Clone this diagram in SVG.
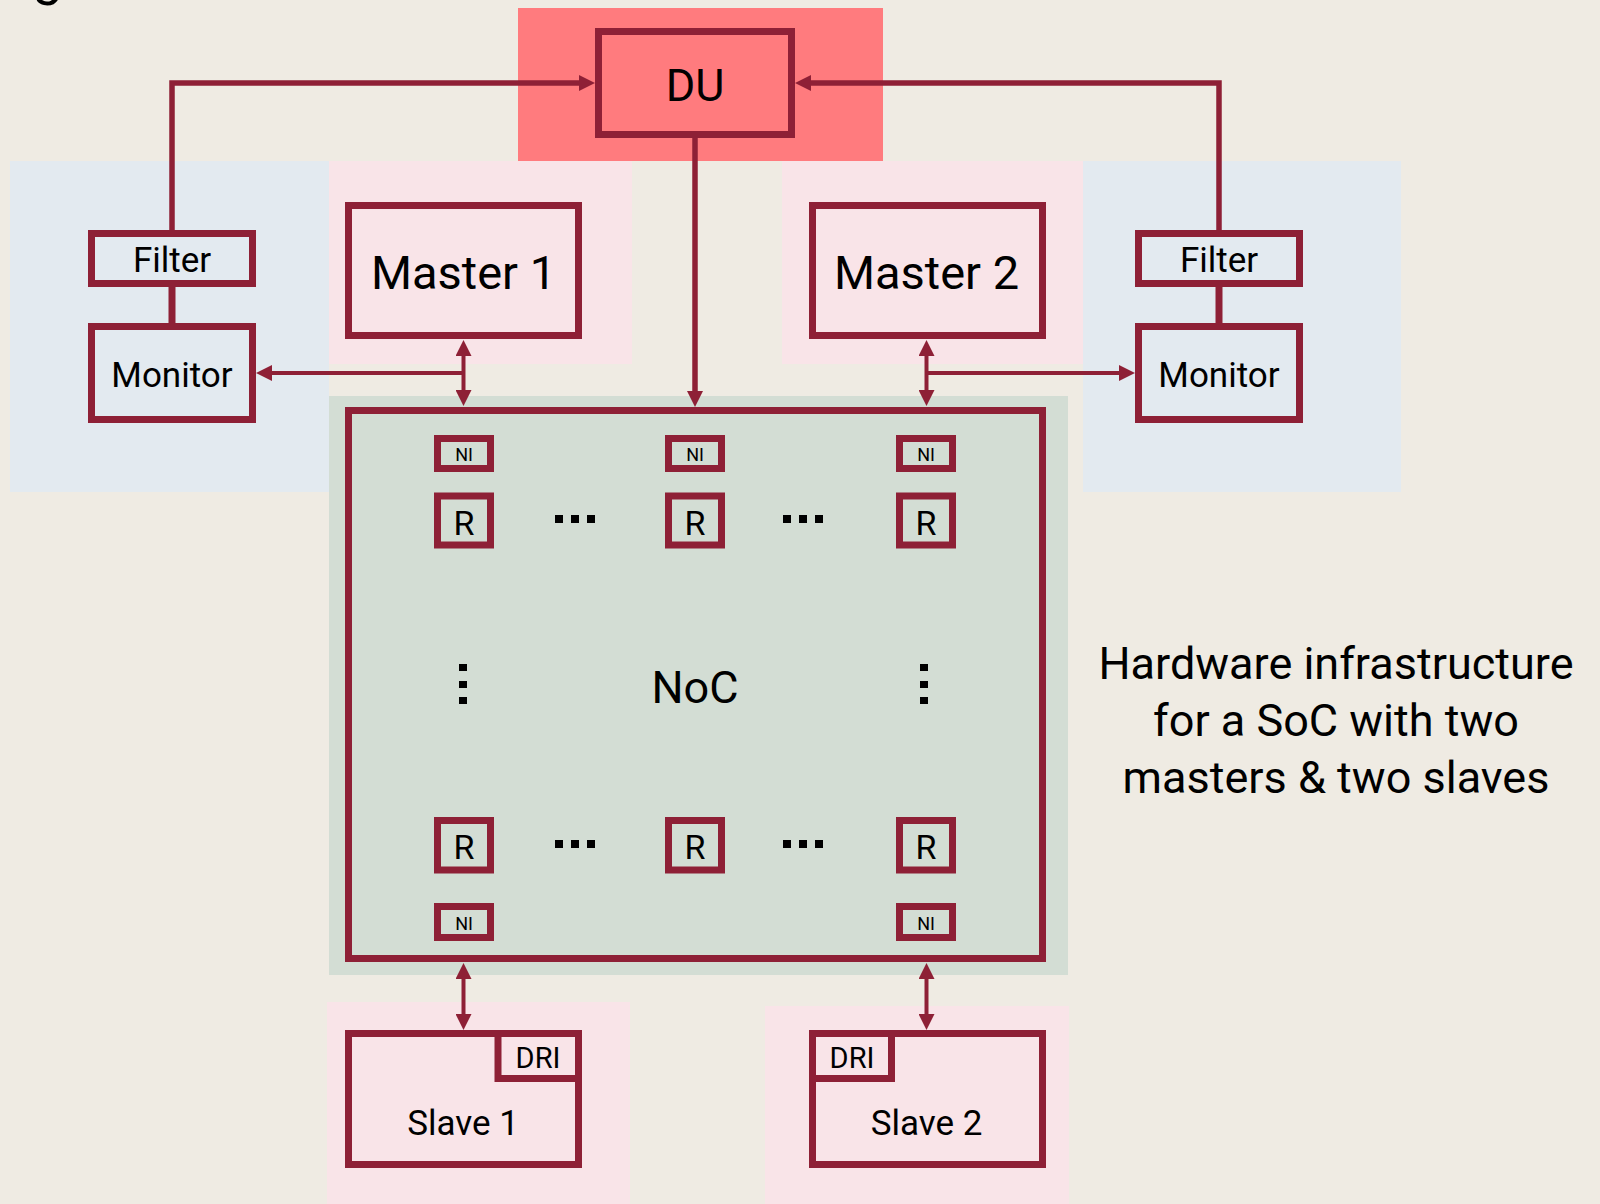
<svg xmlns="http://www.w3.org/2000/svg" width="1600" height="1204" viewBox="0 0 1600 1204">
<defs>
<style>
.box{stroke:#8E2036;stroke-width:7}
.blue{fill:#E3EAF0}
.pink{fill:#F9E4E8}
.green{fill:#D3DDD4}
.red{fill:#FF7B7E}
.t{font-family:Roboto,"Liberation Sans",sans-serif;fill:#000;text-anchor:middle}
.c{fill:none;stroke:#8E2036;stroke-width:4}
.cdu{fill:none;stroke:#8E2036;stroke-width:5.5}
.cfm{fill:none;stroke:#8E2036;stroke-width:7}
.dot{fill:#000}
</style>
<marker id="ah" markerUnits="userSpaceOnUse" markerWidth="16" markerHeight="16" refX="8" refY="8" orient="auto-start-reverse" viewBox="0 0 16 16">
<path d="M0,0 L16,8 L0,16 z" fill="#8E2036"/>
</marker>
</defs>
<rect x="0" y="0" width="1600" height="1204" fill="#EFEBE3"/>
<text class="t" x="48" y="-6" font-size="54">g</text>
<g id="backgrounds">
<rect x="518" y="8" width="365" height="153" class="red"/>
<rect x="10" y="161" width="319" height="331" class="blue"/>
<rect x="1083" y="161" width="318" height="331" class="blue"/>
<rect x="329" y="161" width="303" height="203" class="pink"/>
<rect x="782" y="161" width="301" height="203" class="pink"/>
<rect x="329" y="396" width="739" height="579" class="green"/>
<rect x="327" y="1002" width="303" height="202" class="pink"/>
<rect x="765" y="1006" width="304" height="198" class="pink"/>
</g>
<g id="connectors">
<path class="cdu" d="M172,230 L172,83 L587,83" marker-end="url(#ah)"/>
<path class="cdu" d="M1219,230 L1219,83 L803,83" marker-end="url(#ah)"/>
<path class="cdu" d="M695,138 L695,399" marker-end="url(#ah)"/>
<path class="c" d="M463.5,348 L463.5,398" marker-start="url(#ah)" marker-end="url(#ah)"/>
<path class="c" d="M463.5,373 L264,373" marker-end="url(#ah)"/>
<path class="c" d="M926.5,348 L926.5,398" marker-start="url(#ah)" marker-end="url(#ah)"/>
<path class="c" d="M926.5,373 L1127,373" marker-end="url(#ah)"/>
<path class="cfm" d="M172,287 L172,323"/>
<path class="cfm" d="M1219,287 L1219,323"/>
<path class="c" d="M463.5,971 L463.5,1022" marker-start="url(#ah)" marker-end="url(#ah)"/>
<path class="c" d="M926.5,971 L926.5,1022" marker-start="url(#ah)" marker-end="url(#ah)"/>
</g>
<g id="du">
<rect x="598.5" y="31.5" width="193" height="103" class="box red"/>
<text class="t" x="695" y="101" font-size="45">DU</text>
</g>
<g id="filter-left">
<rect x="91.5" y="233.5" width="161" height="50" class="box blue"/>
<text class="t" x="172" y="272" font-size="35">Filter</text>
</g>
<g id="monitor-left">
<rect x="91.5" y="326.5" width="161" height="93" class="box blue"/>
<text class="t" x="172" y="387" font-size="35">Monitor</text>
</g>
<g id="filter-right">
<rect x="1138.5" y="233.5" width="161" height="50" class="box blue"/>
<text class="t" x="1219" y="272" font-size="35">Filter</text>
</g>
<g id="monitor-right">
<rect x="1138.5" y="326.5" width="161" height="93" class="box blue"/>
<text class="t" x="1219" y="387" font-size="35">Monitor</text>
</g>
<g id="master1">
<rect x="348.5" y="205.5" width="230" height="130" class="box pink"/>
<text class="t" x="463.5" y="289" font-size="47">Master 1</text>
</g>
<g id="master2">
<rect x="812.5" y="205.5" width="230" height="130" class="box pink"/>
<text class="t" x="926.5" y="289" font-size="47">Master 2</text>
</g>
<g id="noc">
<rect x="348.5" y="410.5" width="694" height="548" class="box green"/>
<text class="t" x="695" y="703" font-size="45">NoC</text>
<g id="ni-top-1"><rect x="437.5" y="438.5" width="53" height="30" class="box green"/><text class="t" x="464" y="461" font-size="18">NI</text></g>
<g id="ni-top-2"><rect x="668.5" y="438.5" width="53" height="30" class="box green"/><text class="t" x="695" y="461" font-size="18">NI</text></g>
<g id="ni-top-3"><rect x="899.5" y="438.5" width="53" height="30" class="box green"/><text class="t" x="926" y="461" font-size="18">NI</text></g>
<g id="r-top-1"><rect x="437.5" y="496" width="53" height="49" class="box green"/><text class="t" x="464" y="535" font-size="34">R</text></g>
<g id="r-top-2"><rect x="668.5" y="496" width="53" height="49" class="box green"/><text class="t" x="695" y="535" font-size="34">R</text></g>
<g id="r-top-3"><rect x="899.5" y="496" width="53" height="49" class="box green"/><text class="t" x="926" y="535" font-size="34">R</text></g>
<g id="r-bot-1"><rect x="437.5" y="820.5" width="53" height="49.5" class="box green"/><text class="t" x="464" y="859" font-size="34">R</text></g>
<g id="r-bot-2"><rect x="668.5" y="820.5" width="53" height="49.5" class="box green"/><text class="t" x="695" y="859" font-size="34">R</text></g>
<g id="r-bot-3"><rect x="899.5" y="820.5" width="53" height="49.5" class="box green"/><text class="t" x="926" y="859" font-size="34">R</text></g>
<g id="ni-bot-1"><rect x="437.5" y="906.5" width="53" height="31" class="box green"/><text class="t" x="464" y="930" font-size="18">NI</text></g>
<g id="ni-bot-3"><rect x="899.5" y="906.5" width="53" height="31" class="box green"/><text class="t" x="926" y="930" font-size="18">NI</text></g>
<g id="dots">
<rect x="555" y="515" width="8" height="8" class="dot"/><rect x="571" y="515" width="8" height="8" class="dot"/><rect x="587" y="515" width="8" height="8" class="dot"/>
<rect x="783" y="515" width="8" height="8" class="dot"/><rect x="799" y="515" width="8" height="8" class="dot"/><rect x="815" y="515" width="8" height="8" class="dot"/>
<rect x="555" y="840" width="8" height="8" class="dot"/><rect x="571" y="840" width="8" height="8" class="dot"/><rect x="587" y="840" width="8" height="8" class="dot"/>
<rect x="783" y="840" width="8" height="8" class="dot"/><rect x="799" y="840" width="8" height="8" class="dot"/><rect x="815" y="840" width="8" height="8" class="dot"/>
<rect x="459" y="664" width="8" height="7" class="dot"/><rect x="459" y="681" width="8" height="7" class="dot"/><rect x="459" y="697" width="8" height="7" class="dot"/>
<rect x="920" y="664" width="8" height="7" class="dot"/><rect x="920" y="681" width="8" height="7" class="dot"/><rect x="920" y="697" width="8" height="7" class="dot"/>
</g>
</g>
<g id="slave1">
<rect x="348.5" y="1033.5" width="230" height="131" class="box pink"/>
<rect x="498" y="1033.5" width="80.5" height="45" class="box pink"/>
<text class="t" x="538" y="1068" font-size="29">DRI</text>
<text class="t" x="463" y="1135" font-size="35">Slave 1</text>
</g>
<g id="slave2">
<rect x="812.5" y="1033.5" width="230" height="131" class="box pink"/>
<rect x="812.5" y="1033.5" width="79" height="45" class="box pink"/>
<text class="t" x="852" y="1068" font-size="29">DRI</text>
<text class="t" x="926.5" y="1135" font-size="35">Slave 2</text>
</g>
<g id="caption">
<text class="t" x="1336" y="679" font-size="45">Hardware infrastructure</text>
<text class="t" x="1336" y="736" font-size="45">for a SoC with two</text>
<text class="t" x="1336" y="793" font-size="45">masters &amp; two slaves</text>
</g>
</svg>
